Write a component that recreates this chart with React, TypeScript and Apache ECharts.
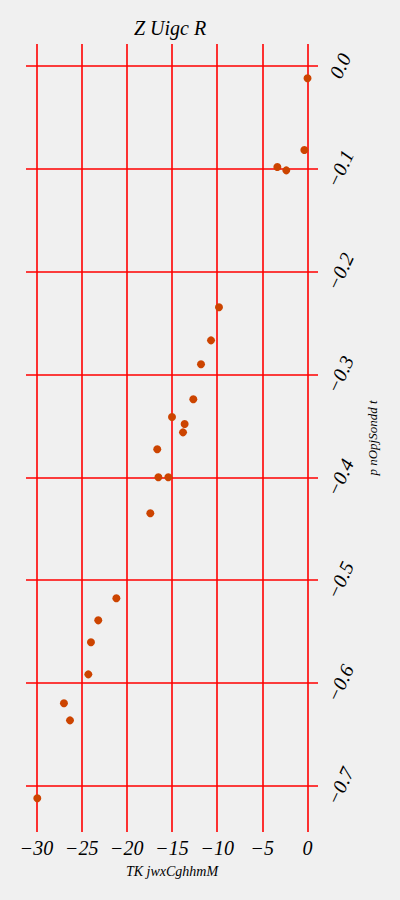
import React, { useEffect, useRef } from "react";
import * as echarts from "echarts";

const title = "Z Uigc R";
const xName = "TK jwxCghhmM";
const yName = "p nOpjSondd t";
const xTicks = [-30, -25, -20, -15, -10, -5, 0];
const yTicks = [0, -0.1, -0.2, -0.3, -0.4, -0.5, -0.6, -0.7];
const xValues = [0.0, -0.35, -3.34, -2.35, -9.8, -10.68, -11.79, -12.64, -15.0, -13.6, -13.78, -16.63, -16.51, -15.41, -17.4, -21.16, -23.16, -23.97, -24.26, -26.96, -26.29, -29.91];
const yValues = [-0.0122, -0.0819, -0.0984, -0.1017, -0.2348, -0.2669, -0.2902, -0.3242, -0.3414, -0.3482, -0.3563, -0.3728, -0.4, -0.4, -0.435, -0.5176, -0.539, -0.5603, -0.5915, -0.6196, -0.6362, -0.7119];

const FONT = "'Liberation Serif', 'Times New Roman', serif";
const fmtX = (v: number) => (v < 0 ? "\u2212" : "") + Math.abs(v);
const fmtY = (v: number) => (v < -1e-9 ? "\u2212" : "") + Math.abs(v).toFixed(1);

export default function App() {
  const ref = useRef<HTMLDivElement>(null);
  useEffect(() => {
    document.body.style.margin = "0";
    document.body.style.background = "#f0f0f0";
    const chart = echarts.init(ref.current!, null, { renderer: "svg" });
    const points = xValues.map((x, i) => [x, yValues[i]]);
    chart.setOption({
      animation: false,
      backgroundColor: "#f0f0f0",
      title: {
        text: title,
        left: 134,
        top: 18,
        padding: 0,
        textStyle: { fontFamily: FONT, fontStyle: "italic", fontWeight: "normal", fontSize: 20, color: "#000" },
      },
      grid: { left: 26, right: 82, top: 44, bottom: 68, containLabel: false },
      xAxis: {
        type: "value",
        min: -31.16,
        max: 1.16,
        axisLine: { show: false },
        axisTick: { show: false },
        splitLine: { show: false },
        axisLabel: {
          customValues: xTicks,
          formatter: fmtX,
          fontFamily: FONT,
          fontStyle: "italic",
          fontSize: 20,
          color: "#000",
          margin: 6,
        },
        name: xName,
        nameLocation: "middle",
        nameGap: 32,
        nameTextStyle: { fontFamily: FONT, fontStyle: "italic", fontSize: 14, color: "#000" },
      },
      yAxis: {
        type: "value",
        position: "right",
        min: -0.7447,
        max: 0.0211,
        axisLine: { show: false },
        axisTick: { show: false },
        splitLine: { show: false },
        axisLabel: {
          customValues: yTicks,
          formatter: fmtY,
          rotate: 65,
          align: "center",
          verticalAlign: "middle",
          fontFamily: FONT,
          fontStyle: "italic",
          fontSize: 20,
          color: "#000",
          margin: 22,
        },
        name: yName,
        nameLocation: "middle",
        nameRotate: 90,
        nameGap: 45,
        nameTextStyle: { fontFamily: FONT, fontStyle: "italic", fontSize: 13, color: "#000" },
      },
      series: [
        {
          type: "scatter",
          z: 2,
          data: points,
          symbolSize: 8,
          itemStyle: { color: "#cc4400", opacity: 1 },
          markLine: {
            z: 1,
            silent: true,
            symbol: ["none", "none"],
            label: { show: false },
            lineStyle: { color: "#ff0000", width: 1.6, type: "solid", opacity: 1 },
            emphasis: { disabled: true },
            data: [
              ...xTicks.map((v) => ({ xAxis: v })),
              ...yTicks.map((v) => ({ yAxis: v })),
            ],
          },
        },
      ],
    });
    return () => chart.dispose();
  }, []);
  return <div ref={ref} style={{ width: 400, height: 900 }} />;
}
